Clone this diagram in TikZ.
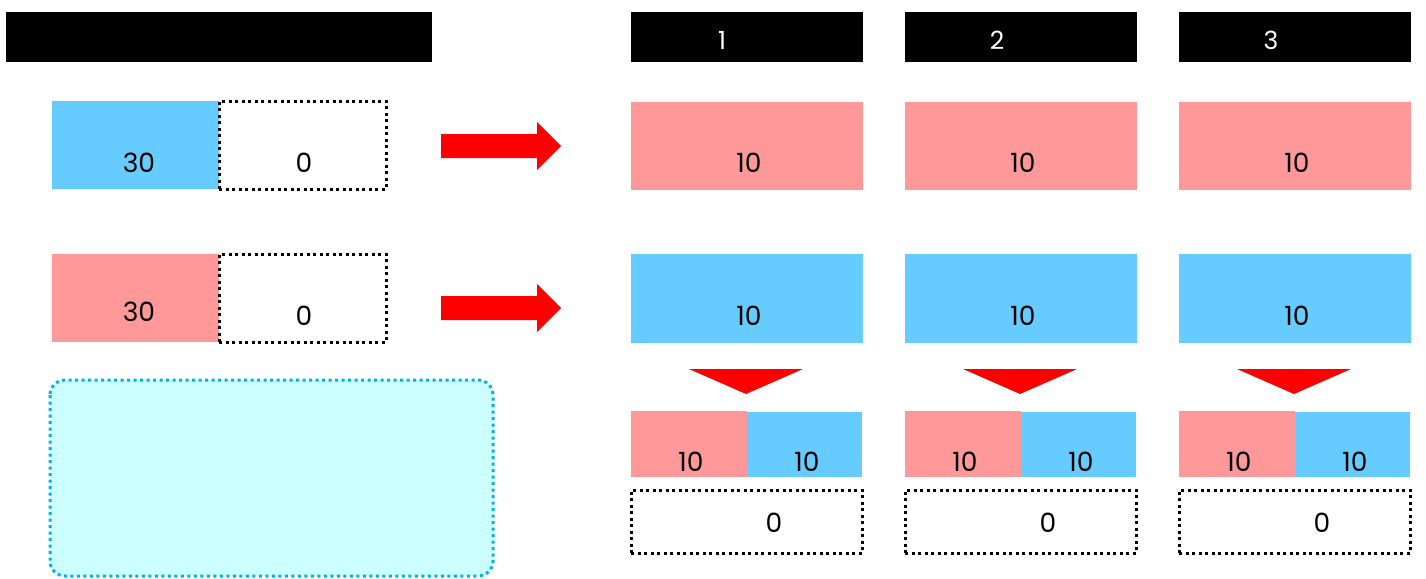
\documentclass[tikz,border=0pt]{standalone}
\usepackage{fontspec}
\setmainfont{Poppins}
\definecolor{cblue}{HTML}{66CCFF}
\definecolor{cpink}{HTML}{FF9999}
\definecolor{cred}{HTML}{FF0000}
\definecolor{ccyan}{HTML}{CCFFFF}
\definecolor{cborder}{HTML}{00B0F0}
\begin{document}
\begin{tikzpicture}[x=1pt,y=-1pt,
  box/.style={draw=none,inner sep=0pt,outer sep=0pt,anchor=north west},
  dotbox/.style={draw=black,line width=3pt,dash pattern=on 3pt off 3.5pt,inner sep=0pt,outer sep=0pt,anchor=north west},
  hdr/.style={fill=black,inner sep=0pt,outer sep=0pt,anchor=north west,minimum height=50pt},
  txt/.style={font=\fontsize{26.5}{26.5}\selectfont,inner sep=0pt,text=black},
  htxt/.style={font=\fontsize{25}{25}\selectfont,inner sep=0pt,text=white},
  rarrow/.style={fill=cred,draw=none},
  tri/.style={fill=cred,draw=none}]
\useasboundingbox (0,0) rectangle (1426,578);
% headers
\node[hdr,minimum width=426pt] (h0) at (6,12) {};
\node[hdr,minimum width=232pt] (h1) at (631,12) {};
\node[hdr,minimum width=232pt] (h2) at (905,12) {};
\node[hdr,minimum width=232pt] (h3) at (1179,12) {};
\node[htxt] (h1t) at (722,40) {1};
\node[htxt] (h2t) at (997,40) {2};
\node[htxt] (h3t) at (1271,40) {3};
% left boxes
\node[box,fill=cblue,minimum width=167pt,minimum height=88pt] (lb1) at (52,101) {};
\node[dotbox,minimum width=167pt,minimum height=88pt] (ld1) at (219,101) {};
\node[txt] (lb1t) at (139,163) {30};
\node[txt] (ld1t) at (304,163) {0};
\node[box,fill=cpink,minimum width=167pt,minimum height=88pt] (lb2) at (52,254) {};
\node[dotbox,minimum width=167pt,minimum height=88pt] (ld2) at (219,254) {};
\node[txt] (lb2t) at (139,312) {30};
\node[txt] (ld2t) at (304,316) {0};
% cyan rounded box
\draw[fill=ccyan,draw=cborder,line width=3pt,dash pattern=on 3pt off 3.5pt,rounded corners=15pt] (50,380) rectangle (493,576);
% arrows
\fill[rarrow] (441,134) -- (537,134) -- (537,122) -- (561,146) -- (537,170) -- (537,158) -- (441,158) -- cycle;
\fill[rarrow] (441,296) -- (537,296) -- (537,284) -- (561,308) -- (537,332) -- (537,320) -- (441,320) -- cycle;
% columns
\foreach \x/\n in {631/1,905/2,1179/3}{
  \node[box,fill=cpink,minimum width=232pt,minimum height=88pt] (p\n) at (\x,102) {};
  \node[txt] (p\n t) at (\x+118,163) {10};
  \node[box,fill=cblue,minimum width=232pt,minimum height=89pt] (b\n) at (\x,254) {};
  \node[txt] (b\n t) at (\x+118,316) {10};
  \fill[tri] (\x+58,369) -- (\x+172,369) -- (\x+115,394) -- cycle;
  \node[box,fill=cpink,minimum width=116pt,minimum height=66pt] (sp\n) at (\x,411) {};
  \node[box,fill=cblue,minimum width=115pt,minimum height=65pt] (sb\n) at (\x+116,412) {};
  \node[txt] (sp\n t) at (\x+60,462) {10};
  \node[txt] (sb\n t) at (\x+176,462) {10};
  \node[dotbox,minimum width=231pt,minimum height=63pt] (d\n) at (\x,490) {};
  \node[txt] (d\n t) at (\x+143,523) {0};
}
\end{tikzpicture}
\end{document}
